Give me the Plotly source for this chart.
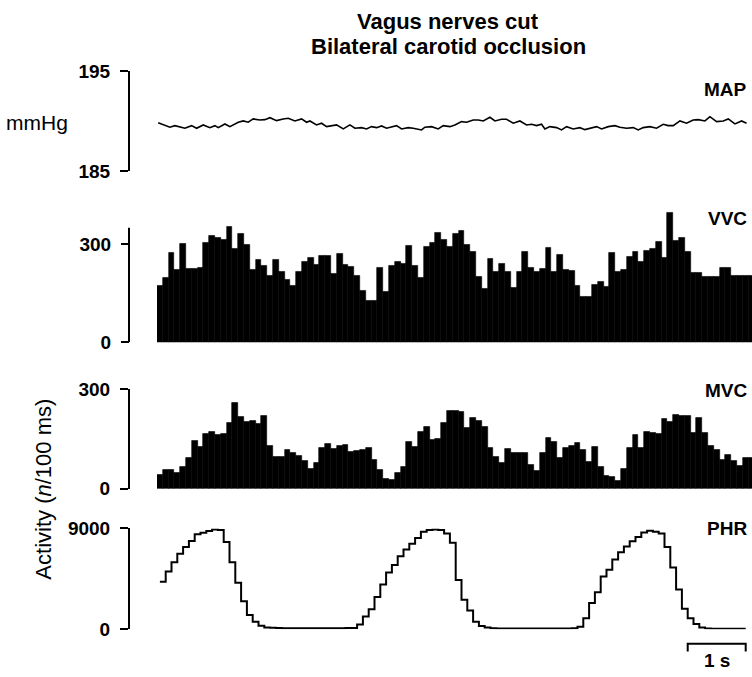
import numpy as np
import plotly.graph_objects as go

# ---------------- data ----------------
BIN_S = 0.1  # 100 ms bins

vvc_counts = [173, 198, 274, 221, 301, 224, 224, 227, 305, 326, 318, 313, 353, 286, 330, 299,
              221, 251, 234, 203, 253, 214, 191, 174, 214, 246, 259, 238, 263, 263, 209, 269,
              237, 232, 204, 158, 126, 126, 228, 154, 233, 245, 241, 296, 233, 196, 293, 304,
              335, 313, 291, 331,
              341, 299, 276, 201, 163, 256, 214, 241, 214, 168, 216, 276, 229, 216, 226, 288,
              216, 266, 221, 219, 174, 138, 138, 176, 184, 171, 273, 214, 223, 261, 276, 246,
              281, 286, 308, 258, 396, 309, 319, 276, 211, 211, 201, 201, 201, 229, 229, 204,
              204, 204, 204]

mvc_counts = [42, 57, 57, 49, 65, 92, 144, 127, 165, 170, 162, 164, 197, 259, 217, 200,
              204, 195, 220, 130, 97, 97, 117, 109, 100, 85, 60, 77, 122, 134, 120, 130,
              132, 112, 114, 117, 122, 87, 57, 29, 25, 47, 67, 142, 127, 170, 185, 147,
              150, 199, 234, 234,
              230, 182, 212, 205, 187, 122, 95, 77, 119, 107, 109, 109, 72, 55, 107, 152,
              142, 92, 122, 130, 137, 117, 82, 127, 67, 39, 35, 22, 59, 124, 162, 124,
              170, 167, 165, 209, 200, 222, 219, 220, 167, 212, 167, 129, 117, 87, 102, 85,
              69, 92, 92]

phr_activity = [4242, 5152, 5970, 6727, 7333, 7879, 8485, 8606, 8758, 8909, 8848, 7788, 5970,
                4152, 2485, 1273, 667, 303, 150,
                120, 100, 90, 90, 90, 90, 90, 90, 90, 90, 90, 90, 90, 100, 110,
                424, 1121, 1788, 2879, 4000, 5061, 5727, 6515, 7121, 7636, 8152, 8697, 8848,
                8909, 8848, 8545, 7727, 4394,
                2636, 1667, 667, 273, 150,
                80, 70, 60, 60, 60, 60, 60, 60, 60, 60, 60, 60, 60, 60, 80,
                212, 970, 2333, 3303, 4697, 5303, 6212, 6879, 7394, 7848, 8242, 8636, 8788,
                8697, 8545, 7333, 5515, 3545, 1818, 970, 455, 152,
                50, 30, 30, 30, 30, 30, 30]

map_time_s = [-0.03, 0.086, 0.172, 0.259, 0.431, 0.546, 0.632, 0.747, 0.862, 0.948, 1.006,
              1.121, 1.207, 1.351, 1.437, 1.523, 1.609, 1.724, 1.81, 1.897, 2.011, 2.126,
              2.213, 2.328, 2.443, 2.529, 2.586, 2.701, 2.787, 2.874, 2.96, 3.046, 3.161,
              3.276, 3.362, 3.477, 3.563, 3.649, 3.736, 3.822, 3.908, 3.994, 4.08, 4.167,
              4.282, 4.368, 4.454, 4.511, 4.569, 4.684, 4.799, 4.885, 5.0, 5.086, 5.201,
              5.287, 5.402, 5.489, 5.575, 5.69, 5.776, 5.891, 5.977, 6.092, 6.207, 6.322,
              6.408, 6.494, 6.58, 6.638, 6.724, 6.839, 6.925, 7.011, 7.126, 7.241, 7.328,
              7.414, 7.529, 7.615, 7.73, 7.845, 7.931, 8.046, 8.161, 8.247, 8.333, 8.448,
              8.563, 8.678, 8.764, 8.851, 8.966, 9.08, 9.195, 9.282, 9.397, 9.483, 9.598,
              9.713, 9.799, 9.914, 10.029, 10.115]
map_mmhg = [189.83, 189.53, 189.37, 189.53, 189.27, 189.53, 189.27, 189.6, 189.33, 189.53,
            189.33, 189.7, 189.43, 189.87, 190.0, 189.87, 190.2, 190.1, 190.13, 190.33,
            190.03, 190.2, 190.27, 190.0, 190.2, 189.87, 190.0, 189.6, 189.77, 189.43,
            189.53, 189.6, 189.2, 189.6, 189.27, 189.33, 189.2, 189.43, 189.33, 189.5,
            189.27, 189.37, 189.53, 189.2, 189.33, 189.27, 189.2, 189.1, 189.37, 189.43,
            189.2, 189.53, 189.43, 189.6, 189.93, 189.87, 190.1, 190.1, 190.0, 190.37,
            190.0, 190.17, 190.17, 189.77, 190.0, 189.6, 189.67, 189.53, 189.67, 189.2,
            189.43, 189.33, 189.1, 189.43, 189.2, 189.33, 189.13, 189.27, 189.43, 189.2,
            189.43, 189.53, 189.37, 189.27, 189.33, 189.1, 189.33, 189.43, 189.27, 189.67,
            189.53, 189.53, 190.0, 189.77, 190.1, 190.13, 190.0, 190.43, 189.93, 190.0,
            190.2, 189.7, 190.0, 189.77]

map_ticks = [185, 195]
count_ticks = [0, 300]
phr_ticks = [0, 9000]
panel_labels = ["MAP", "VVC", "MVC", "PHR"]
title_lines = ["Vagus nerves cut", "Bilateral carotid occlusion"]
scale_bar = (9.1, 10.1)  # 1 s

# ---------------- layout helpers ----------------
W, H = 752, 677
FONT = "Liberation Sans"


def py(px):
    return 1 - px / H


def pxx(px):
    return px / W


AXIS_X = pxx(129)
XDOM = [pxx(157), 1.0]
XR = [-0.05, -0.05 + 595 / 58.0]

fig = go.Figure()

# MAP
fig.add_trace(go.Scatter(x=map_time_s, y=map_mmhg, mode="lines",
                         line=dict(color="black", width=1.6), xaxis="x", yaxis="y",
                         showlegend=False, hoverinfo="skip"))

# VVC / MVC histograms
t_vvc = np.arange(len(vvc_counts)) * BIN_S
t_mvc = np.arange(len(mvc_counts)) * BIN_S
fig.add_trace(go.Bar(x=t_vvc, y=vvc_counts, width=BIN_S, xaxis="x2", yaxis="y2",
                     marker=dict(color="black", line=dict(color="black", width=0.6)),
                     showlegend=False, hoverinfo="skip"))
fig.add_trace(go.Bar(x=t_mvc, y=mvc_counts, width=BIN_S, xaxis="x3", yaxis="y3",
                     marker=dict(color="black", line=dict(color="black", width=0.6)),
                     showlegend=False, hoverinfo="skip"))

# PHR step trace
t_phr = np.arange(len(phr_activity) + 1) * BIN_S
fig.add_trace(go.Scatter(x=t_phr, y=phr_activity + [phr_activity[-1]], mode="lines",
                         line=dict(color="black", width=2, shape="hv"),
                         xaxis="x4", yaxis="y4", cliponaxis=False,
                         showlegend=False, hoverinfo="skip"))

tickfont = dict(family=FONT, size=19, color="black", weight="bold")
common_y = dict(anchor="free", position=AXIS_X, ticks="outside", ticklen=8, tickwidth=2,
                tickcolor="black", linecolor="black", linewidth=2, showgrid=False,
                zeroline=False, tickfont=tickfont, ticklabelstandoff=6, fixedrange=True)

fig.update_layout(
    width=W, height=H, margin=dict(l=0, r=0, t=0, b=0),
    paper_bgcolor="white", plot_bgcolor="white", bargap=0, barmode="overlay",
    yaxis=dict(domain=[py(166), py(63)], range=[185, 195], tickvals=map_ticks,
               showline=True, **common_y),
    yaxis2=dict(domain=[py(343), py(201)], range=[0, 420], tickvals=count_ticks,
                showline=False, **common_y),
    yaxis3=dict(domain=[py(494), py(391)], range=[0, 300], tickvals=count_ticks,
                showline=True, **common_y),
    yaxis4=dict(domain=[py(639), py(535)], range=[0, 9000], tickvals=phr_ticks,
                showline=True, **common_y),
)
for i, ax in enumerate(["xaxis", "xaxis2", "xaxis3", "xaxis4"]):
    fig.update_layout({ax: dict(domain=XDOM, range=XR, visible=False, fixedrange=True,
                                anchor=["y", "y2", "y3", "y4"][i])})

shapes = [
    dict(type="line", xref="paper", yref="y2", x0=AXIS_X, x1=AXIS_X, y0=0, y1=350,
         line=dict(color="black", width=2)),
    dict(type="path", xref="x4", yref="paper",
         path=f"M {scale_bar[0]},{py(662)} L {scale_bar[0]},{py(654)} "
              f"L {scale_bar[1]},{py(654)} L {scale_bar[1]},{py(662)}",
         line=dict(color="black", width=2)),
]
fig.update_layout(shapes=shapes)


def note(text, x, y, size=19, weight="bold", xanchor="center", angle=0):
    return dict(text=text, x=pxx(x), y=py(y), xref="paper", yref="paper",
                xanchor=xanchor, yanchor="middle", showarrow=False, textangle=angle,
                font=dict(family=FONT, size=size, color="black", weight=weight))


ann = [note(title_lines[0], 448, 12, size=22), note(title_lines[1], 448, 38, size=22)]
label_pos = [(749, 82), (749, 215), (750, 393), (749, 535)]
for lab, (lx, ly) in zip(panel_labels, label_pos):
    ann.append(note(lab, lx, ly, size=19, xanchor="right"))
ann.append(note("mmHg", 37, 116, size=21, weight="normal"))
ann.append(note("Activity (<i>n</i>/100 ms)", 44, 495, size=22, weight="normal", angle=-90))
ann.append(note("1 s", 717, 671, size=19))
fig.update_layout(annotations=ann)

fig.write_html("out.html")
